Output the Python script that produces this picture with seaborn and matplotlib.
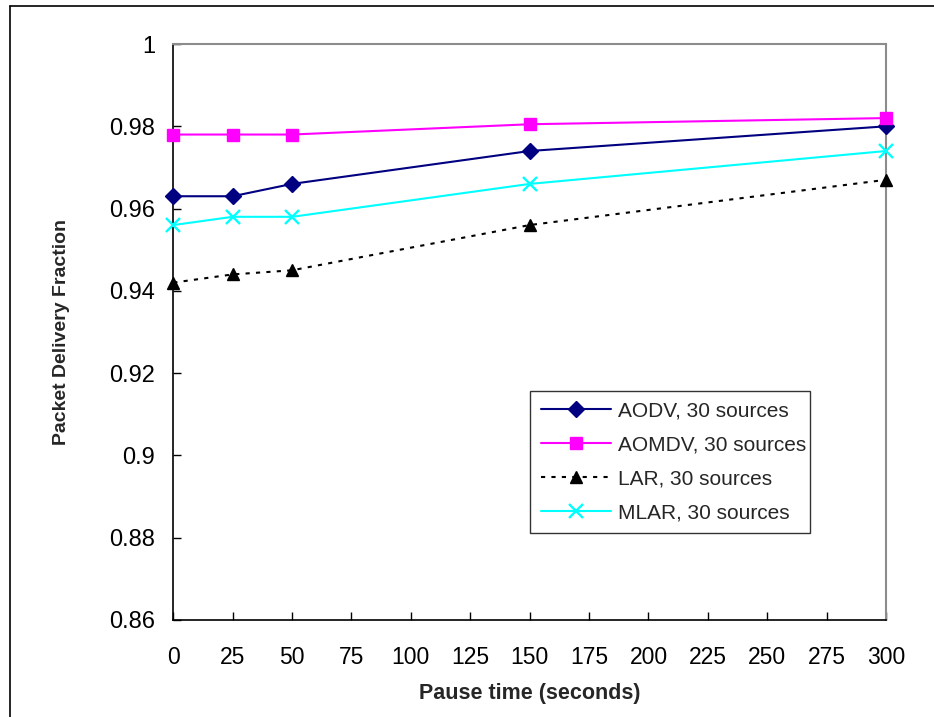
import matplotlib
matplotlib.use("Agg")
import matplotlib.pyplot as plt
from matplotlib.lines import Line2D
import seaborn as sns
import pandas as pd

pause = [0, 25, 50, 150, 300]
aodv = [0.963, 0.963, 0.966, 0.974, 0.980]
aomdv = [0.978, 0.978, 0.978, 0.9805, 0.982]
lar = [0.942, 0.944, 0.945, 0.956, 0.967]
mlar = [0.956, 0.958, 0.958, 0.966, 0.974]
series_names = ["AODV, 30 sources", "AOMDV, 30 sources", "LAR, 30 sources", "MLAR, 30 sources"]
x_ticks = list(range(0, 301, 25))
y_ticks = [0.86, 0.88, 0.9, 0.92, 0.94, 0.96, 0.98, 1.0]
y_tick_labels = ["0.86", "0.88", "0.9", "0.92", "0.94", "0.96", "0.98", "1"]

sns.set_theme(style="white")
plt.rcParams['font.family'] = ['Liberation Sans', 'DejaVu Sans']

fig = plt.figure(figsize=(9.34, 7.17), dpi=100)
ax = fig.add_axes([0.1855, 0.1353, 0.7632, 0.8033])

styles = [
    dict(color="#000080", marker="D", markersize=8, linestyle="-"),
    dict(color="#FF00FF", marker="s", markersize=8, linestyle="-"),
    dict(color="black", marker="^", markersize=9, linestyle=(0, (2, 3))),
    dict(color="#00FFFF", marker="x", markersize=10, markeredgewidth=1.7, linestyle="-"),
]
values = [aodv, aomdv, lar, mlar]
for name, vals, st in zip(series_names, values, styles):
    df = pd.DataFrame({"x": pause, "y": vals})
    sns.lineplot(data=df, x="x", y="y", ax=ax, label=name, linewidth=1.5,
                 color=st["color"], marker=st["marker"], markersize=st["markersize"],
                 markeredgecolor=st["color"], markeredgewidth=st.get("markeredgewidth", 1),
                 linestyle=st["linestyle"], clip_on=False, zorder=3)

ax.set_xlim(0, 300)
ax.set_ylim(0.86, 1.0)
ax.set_xticks(x_ticks)
ax.set_yticks(y_ticks)
ax.set_yticklabels(y_tick_labels, fontsize=17)
ax.set_xticklabels([str(t) for t in x_ticks], fontsize=16.5)
ax.tick_params(axis='both', direction='in', length=6, width=1, colors='black',
               bottom=True, left=True)
ax.tick_params(axis='x', pad=19)
ax.tick_params(axis='y', pad=13)

for s in ["left", "bottom"]:
    ax.spines[s].set_color("black")
    ax.spines[s].set_linewidth(1.2)
for s in ["top", "right"]:
    ax.spines[s].set_color("#8c8c8c")
    ax.spines[s].set_linewidth(1.5)

ax.set_xlabel("Pause time (seconds)", fontsize=15.5, fontweight="bold", labelpad=10)
ax.set_ylabel("Packet Delivery Fraction", fontsize=14, fontweight="bold", labelpad=28)

leg = ax.legend(loc="lower left", bbox_to_anchor=(0.5007, 0.151, 0.393, 0.245),
                mode="expand", fontsize=15, frameon=True, fancybox=False,
                borderaxespad=0, handlelength=3.4, labelspacing=0.72,
                borderpad=0.5, handletextpad=0.3)
leg.get_frame().set_edgecolor("black")
leg.get_frame().set_linewidth(1.0)

fig.add_artist(Line2D([0.0107, 0.0107], [0, 0.992], transform=fig.transFigure,
                      color="black", linewidth=1.2))
fig.add_artist(Line2D([0.0107, 1.0], [0.992, 0.992], transform=fig.transFigure,
                      color="black", linewidth=1.2))

fig.savefig("out.png", dpi=100)
